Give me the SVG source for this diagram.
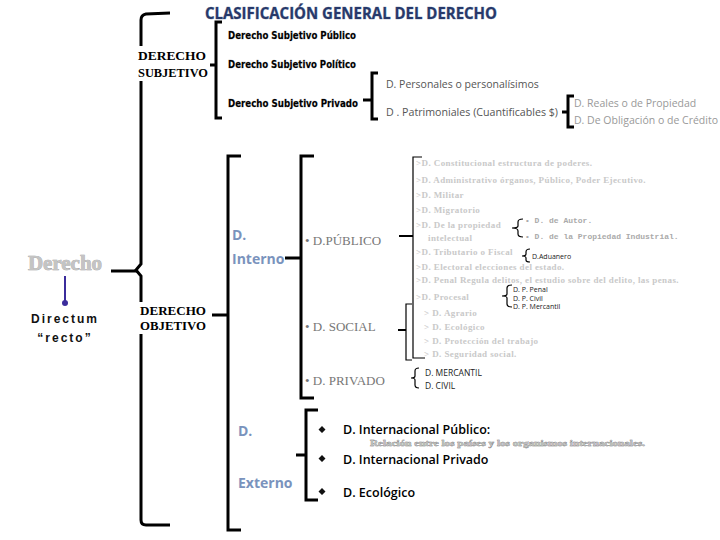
<svg xmlns="http://www.w3.org/2000/svg" width="720" height="540" viewBox="0 0 720 540">
<style>
.br{fill:none;stroke:#000;stroke-width:3}
.thin{fill:none;stroke:#000;stroke-width:1.2}
.title{font-family:"Open Sans","Liberation Sans",sans-serif;font-weight:bold;font-size:16px;fill:#27396a;stroke:#8f9bb5;stroke-width:0.6;paint-order:stroke}
.tnr{font-family:"Liberation Serif",serif;font-weight:bold;font-size:13.5px;fill:#000}
.sub{font-family:"DejaVu Sans","Liberation Sans",sans-serif;font-weight:bold;font-size:10px;fill:#000;stroke:#999;stroke-width:0.4;paint-order:stroke}
.cal{font-family:"Open Sans","Liberation Sans",sans-serif;font-size:10.5px;fill:#555}
.calg{font-family:"Open Sans","Liberation Sans",sans-serif;font-size:10.5px;fill:#999}
.blue{font-family:"Open Sans","Liberation Sans",sans-serif;font-weight:bold;font-size:14px;fill:#7a93bd}
.gser{font-family:"Liberation Serif",serif;font-size:13px;fill:#777}
.faint{font-family:"Liberation Serif",serif;font-weight:bold;font-size:9px;letter-spacing:0.4px;fill:#c9c9c9}
.fmono{font-family:"Liberation Mono",monospace;font-weight:bold;font-size:8px;fill:#aaa}
.tiny{font-family:"Open Sans","Liberation Sans",sans-serif;font-size:7px;fill:#222}
.small{font-family:"Open Sans","Liberation Sans",sans-serif;font-size:8.5px;fill:#222}
.ext{font-family:"Open Sans","Liberation Sans",sans-serif;font-size:12.5px;fill:#000;font-weight:600}
</style>
<defs>
<marker id="dot" markerWidth="4" markerHeight="4" refX="2" refY="2"><circle cx="2" cy="2" r="1.5" fill="#3b2c9c"/></marker>
</defs>

<text class="title" x="351" y="19" text-anchor="middle" textLength="292" lengthAdjust="spacingAndGlyphs">CLASIFICACIÓN GENERAL DEL DERECHO</text>

<g id="connectors">
<path class="br" d="M170,13 L146,14 Q141,15 141,20 L141,264 L136,270 L141,276 L141,520 Q141,525 146,525 L170,525"/>
<path class="br" d="M111,271 H137"/>
<path class="br" d="M222,22 H216 V118 H222 M210,65 H216"/>
<path class="br" d="M378,73 H372 V119 H378 M363,100 H372"/>
<path class="br" d="M574,96 H568 V127 H574 M562,112 H568"/>
<path class="br" d="M241,156 H228 V530 H241 M212,315 H228"/>
<path class="br" d="M314,156 H301 V398 H314 M285,258 H301"/>
<path class="br" d="M318,410 H306 V500 H318 M296,455 H306"/>
<path class="thin" d="M422,157 H413 V358 H425"/>
<path class="br" style="stroke-width:2" d="M399,236 H413"/>
<path class="thin" d="M412,304 H406 V360 H412"/>
<path class="br" style="stroke-width:2" d="M398,330 H406"/>
<path class="thin" d="M523,219 Q518,219 518,222 V226 Q518,228 512,228 Q518,228 518,231 V234 Q518,237 523,237"/>
<path class="thin" d="M530,249 Q526,249 526,252 V254 Q526,256 522,256 Q526,256 526,258 V260 Q526,262 530,262"/>
<path class="thin" d="M512,285 Q507,285 507,288 V294 Q507,296 502,296 Q507,296 507,298 V304 Q507,307 512,307"/>
<path class="thin" d="M419,368 Q415,368 415,371 V376 Q415,378 411,378 Q415,378 415,380 V385 Q415,388 419,388"/>
<line x1="65" y1="276" x2="65" y2="303" stroke="#3b2c9c" stroke-width="2" marker-end="url(#dot)"/>
</g>

<g id="derecho">
<text x="65" y="270" text-anchor="middle" font-family="Liberation Serif,serif" font-weight="bold" font-size="21" fill="#c4c4c4" stroke="#999" stroke-width="0.6" paint-order="stroke">Derecho</text>
<text x="65" y="323" text-anchor="middle" font-family="Liberation Sans,sans-serif" font-weight="bold" font-size="12" letter-spacing="2" fill="#111">Directum</text>
<text x="65" y="342" text-anchor="middle" font-family="Liberation Sans,sans-serif" font-weight="bold" font-size="12" letter-spacing="2" fill="#111">“recto”</text>
</g>

<g id="subjetivo">
<rect x="137" y="46" width="72" height="35" fill="#fff"/>
<text class="tnr" x="138" y="60" textLength="68" lengthAdjust="spacingAndGlyphs">DERECHO</text>
<text class="tnr" x="138" y="77" textLength="70" lengthAdjust="spacingAndGlyphs">SUBJETIVO</text>
<text class="sub" x="228" y="39" textLength="128" lengthAdjust="spacingAndGlyphs">Derecho Subjetivo Público</text>
<text class="sub" x="228" y="68" textLength="128" lengthAdjust="spacingAndGlyphs">Derecho Subjetivo Político</text>
<text class="sub" x="228" y="107" textLength="130" lengthAdjust="spacingAndGlyphs">Derecho Subjetivo Privado</text>
<text class="cal" x="386" y="88">D. Personales o personalísimos</text>
<text class="cal" x="386" y="116" textLength="172" lengthAdjust="spacingAndGlyphs">D . Patrimoniales (Cuantificables $)</text>
<text class="calg" x="574" y="107">D. Reales o de Propiedad</text>
<text class="calg" x="574" y="124">D. De Obligación o de Crédito</text>
</g>

<g id="objetivo">
<rect x="138" y="302" width="70" height="32" fill="#fff"/>
<text class="tnr" x="140" y="315" font-size="13" textLength="66" lengthAdjust="spacingAndGlyphs">DERECHO</text>
<text class="tnr" x="140" y="330" font-size="13" textLength="66" lengthAdjust="spacingAndGlyphs">OBJETIVO</text>
</g>

<g id="interno">
<text class="blue" x="232" y="240">D.</text>
<text class="blue" x="232" y="264">Interno</text>
<text class="gser" x="305" y="245">• D.PÚBLICO</text>
<text class="gser" x="305" y="331">• D. SOCIAL</text>
<text class="gser" x="305" y="385">• D. PRIVADO</text>
</g>

<g id="publico-lista">
<text class="faint" x="416" y="166">&gt;D. Constitucional   estructura de poderes.</text>
<text class="faint" x="416" y="183">&gt;D. Administrativo   órganos, Público, Poder Ejecutivo.</text>
<text class="faint" x="416" y="198">&gt;D. Militar</text>
<text class="faint" x="416" y="213">&gt;D. Migratorio</text>
<text class="faint" x="416" y="228">&gt;D. De la propiedad</text>
<text class="faint" x="428" y="241">intelectual</text>
<text class="faint" x="416" y="255">&gt;D. Tributario o Fiscal</text>
<text class="faint" x="416" y="270">&gt;D. Electoral   elecciones del estado.</text>
<text class="faint" x="416" y="283">&gt;D. Penal   Regula delitos, el estudio sobre del delito, las penas.</text>
<text class="faint" x="416" y="300">&gt;D. Procesal</text>
<text class="fmono" x="525" y="223">• D. de Autor.</text>
<text class="fmono" x="525" y="239">• D. de  la Propiedad Industrial.</text>
<text class="tiny" x="532" y="259" fill="#888">D.Aduanero</text>
<text class="tiny" x="513" y="292">D. P. Penal</text>
<text class="tiny" x="513" y="300.5">D. P. Civil</text>
<text class="tiny" x="513" y="309">D. P. Mercantil</text>
</g>

<g id="social-lista">
<text class="faint" x="424" y="316">&gt; D. Agrario</text>
<text class="faint" x="424" y="330">&gt; D. Ecológico</text>
<text class="faint" x="424" y="344">&gt; D. Protección del trabajo</text>
<text class="faint" x="424" y="357">&gt; D. Seguridad social.</text>
</g>

<g id="privado-lista">
<text class="small" x="425" y="376">D. MERCANTIL</text>
<text class="small" x="425" y="389">D. CIVIL</text>
</g>

<g id="externo">
<text class="blue" x="238" y="436">D.</text>
<text class="blue" x="238" y="488">Externo</text>
<path d="M322,426 l3.5,3.5 -3.5,3.5 -3.5,-3.5z M322,455 l3.5,3.5 -3.5,3.5 -3.5,-3.5z M322,488 l3.5,3.5 -3.5,3.5 -3.5,-3.5z" fill="#111"/>
<text class="ext" x="343" y="434">D. Internacional Público:</text>
<text x="370" y="446" font-family="Liberation Serif,serif" font-weight="bold" font-size="9" fill="#bbb" stroke="#666" stroke-width="0.4" paint-order="stroke" textLength="275" lengthAdjust="spacingAndGlyphs">Relación entre los países y los  organismos internacionales.</text>
<text class="ext" x="343" y="464">D. Internacional Privado</text>
<text class="ext" x="343" y="497">D. Ecológico</text>
</g>
</svg>
